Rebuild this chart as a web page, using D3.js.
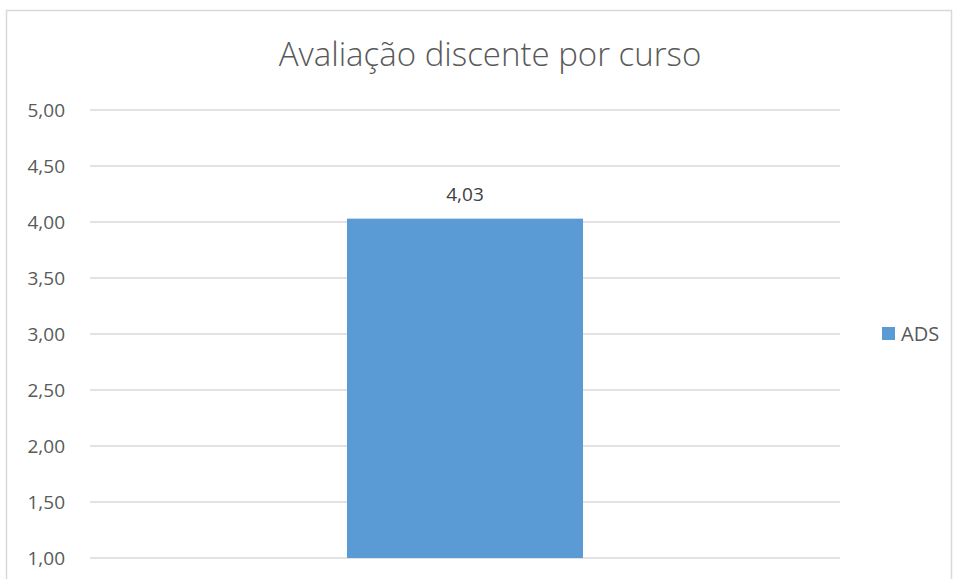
<!DOCTYPE html>
<html lang="pt">
<head>
<meta charset="UTF-8">
<title>Avaliação discente por curso</title>
<script src="https://d3js.org/d3.v7.min.js"></script>
<style>
  body { margin: 0; background: #fff; }
  svg { display: block; font-family: "Open Sans", "Noto Sans", sans-serif; }
</style>
</head>
<body>
<div id="chart"></div>
<script>
// data
const categories = ["ADS"];
const values = [4.03];
const yTicks = [1, 1.5, 2, 2.5, 3, 3.5, 4, 4.5, 5];
const chartTitle = "Avaliação discente por curso";

const width = 955, height = 579;
const fmt = v => d3.format(".2f")(v).replace(".", ",");

const svg = d3.select("#chart").append("svg")
    .attr("width", width)
    .attr("height", height);

// chart area border (bottom runs off the page)
svg.append("rect")
    .attr("x", 6.5).attr("y", 10.5)
    .attr("width", 945).attr("height", 600)
    .attr("fill", "#fff")
    .attr("stroke", "#d9d9d9")
    .attr("stroke-width", 1.5);

svg.append("text")
    .attr("x", 490).attr("y", 66)
    .attr("text-anchor", "middle")
    .attr("fill", "#595959")
    .style("font-size", "33px")
    .style("font-weight", 300)
    .text(chartTitle);

const x = d3.scaleBand().domain(categories).range([90, 840]).paddingInner(0.37).paddingOuter(0.343);
const y = d3.scaleLinear().domain([1, 5]).range([558, 110]);

// gridlines
svg.append("g").selectAll("line")
    .data(yTicks)
    .join("line")
    .attr("x1", 90).attr("x2", 840)
    .attr("y1", d => y(d)).attr("y2", d => y(d))
    .attr("stroke", "#d9d9d9")
    .attr("stroke-width", 1.5);

// y axis labels
svg.append("g").selectAll("text")
    .data(yTicks)
    .join("text")
    .attr("x", 65)
    .attr("y", d => y(d))
    .attr("dy", "0.36em")
    .attr("text-anchor", "end")
    .attr("fill", "#595959")
    .style("font-size", "19px")
    .text(d => fmt(d));

// bars
const bw = 236;
svg.append("g").selectAll("rect")
    .data(values)
    .join("rect")
    .attr("x", (d, i) => x(categories[i]) + x.bandwidth() / 2 - bw / 2)
    .attr("width", bw)
    .attr("y", d => y(d))
    .attr("height", d => y(1) - y(d))
    .attr("fill", "#5b9bd5");

// data labels
svg.append("g").selectAll("text")
    .data(values)
    .join("text")
    .attr("x", (d, i) => x(categories[i]) + x.bandwidth() / 2)
    .attr("y", d => y(d) - 18)
    .attr("text-anchor", "middle")
    .attr("fill", "#404040")
    .style("font-size", "19px")
    .text(d => fmt(d));

// legend
const legend = svg.append("g").attr("transform", "translate(882,327)");
legend.append("rect").attr("width", 13).attr("height", 13).attr("fill", "#5b9bd5");
legend.append("text")
    .attr("x", 19).attr("y", 6.5).attr("dy", "0.36em")
    .attr("fill", "#595959")
    .style("font-size", "20px")
    .text(categories[0]);
</script>
</body>
</html>
